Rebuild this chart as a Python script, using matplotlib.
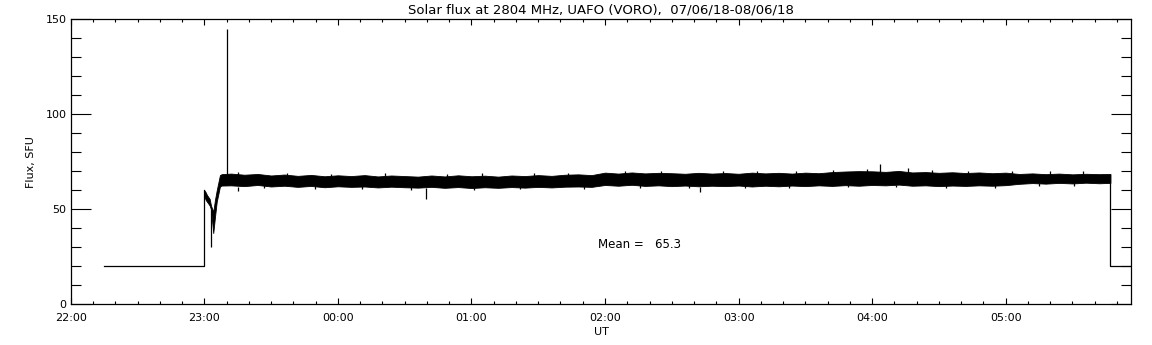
import matplotlib
matplotlib.use("Agg")
import matplotlib.pyplot as plt
from matplotlib.ticker import MultipleLocator

# time axis: hours after 22:00 UT
hour_ticks = [0, 1, 2, 3, 4, 5, 6, 7]
hour_labels = ["22:00", "23:00", "00:00", "01:00", "02:00", "03:00", "04:00", "05:00"]

# receiver off / switch-on levels
base_t = [0.25, 1.0, 1.0]
base_f = [20, 20, 60]
tail_t = [7.784, 7.784, 7.94]
tail_f = [68, 20, 20]

# noise band envelope (upper / lower), SFU
band_t = [1.00, 1.01, 1.02, 1.03, 1.04, 1.05, 1.067, 1.08, 1.093, 1.105, 1.117, 1.13,
          1.2, 1.3, 1.4, 1.5, 1.6, 1.7, 1.8, 1.9, 2.0, 2.1, 2.2, 2.3, 2.4, 2.5,
          2.6, 2.7, 2.8, 2.9, 3.0, 3.1, 3.2, 3.3, 3.4, 3.5, 3.6, 3.7, 3.8, 3.9,
          4.0, 4.1, 4.2, 4.3, 4.4, 4.5, 4.6, 4.7, 4.8, 4.9, 5.0, 5.1, 5.2, 5.3,
          5.4, 5.5, 5.6, 5.7, 5.8, 5.9, 6.0, 6.1, 6.2, 6.3, 6.4, 6.5, 6.6, 6.7,
          6.8, 6.9, 7.0, 7.1, 7.2, 7.3, 7.4, 7.5, 7.6, 7.7, 7.784]
band_hi = [60, 59, 57.5, 56.5, 55.5, 52, 48.7, 55, 60, 64, 68, 68.5,
           68.8, 68.2, 68.6, 67.8, 68.3, 67.6, 68.1, 67.4, 67.9, 67.5, 68.0, 67.3, 67.8, 67.5,
           67.2, 67.8, 67.3, 67.9, 67.4, 67.7, 67.2, 67.8, 67.5, 68.0, 67.6, 68.2, 68.4, 68.0,
           69.3, 68.8, 69.4, 68.9, 69.2, 69.0, 68.7, 69.2, 68.8, 69.1, 68.7, 69.3, 68.9, 69.2,
           68.8, 69.3, 69.0, 69.6, 69.9, 70.1, 70.0, 69.7, 70.2, 69.4, 69.6, 69.2, 69.5, 69.1,
           69.4, 69.0, 69.3, 68.6, 68.9, 68.5, 68.8, 68.4, 68.7, 68.5, 68.6]
band_lo = [57, 55, 54, 53, 52, 50, 37.5, 46, 54, 58, 62, 62.5,
           62.6, 62.2, 62.8, 62.0, 62.4, 61.8, 62.3, 61.6, 62.1, 61.8, 62.0, 61.5, 61.9, 61.6,
           61.4, 61.8, 61.3, 61.7, 61.2, 61.6, 61.3, 61.7, 61.4, 61.8, 61.5, 61.9, 62.0, 61.8,
           62.8, 62.4, 62.9, 62.3, 62.6, 62.2, 62.5, 62.1, 62.4, 62.2, 62.5, 62.0, 62.4, 62.1,
           62.5, 62.2, 62.6, 62.3, 62.7, 62.4, 62.8, 62.6, 63.0, 62.4, 62.6, 62.2, 62.5, 62.3,
           62.6, 62.4, 62.7, 63.4, 63.8, 63.5, 63.9, 63.6, 64.0, 63.7, 63.9]

# isolated spikes
spike_t = [1.048, 1.172, 1.256, 2.66, 4.71, 6.06, 6.27]
spike_from = [50, 66, 62, 61, 62, 69, 69]
spike_to = [30, 145, 59.8, 55.3, 59.3, 73.8, 71.6]

# small noise peaks sticking out of the band edges
peak_t = [1.25, 1.62, 1.95, 2.35, 2.82, 3.08, 3.47, 3.72, 4.15, 4.42, 4.88, 5.14,
          5.43, 5.71, 5.96, 6.45, 6.72, 7.05, 7.33, 7.58,
          1.45, 1.83, 2.18, 2.55, 3.02, 3.36, 3.84, 4.26, 4.63, 5.05, 5.38, 5.82,
          6.18, 6.55, 6.92, 7.25, 7.51]
peak_from = [68, 67, 67, 67, 67, 67, 67, 67, 68, 68, 68, 68,
             68, 69, 69, 69, 68, 68, 68, 68,
             63, 63, 63, 62, 62, 62, 63, 63, 63, 63, 63, 63,
             63, 63, 63, 64, 64]
peak_to = [69.6, 69.0, 68.8, 68.9, 68.7, 69.0, 68.9, 69.2, 70.3, 70.0, 70.2, 70.4,
           70.1, 70.8, 71.0, 70.6, 70.4, 70.2, 70.0, 70.1,
           61.0, 60.6, 60.8, 60.4, 60.2, 60.5, 60.7, 61.4, 61.2, 61.3, 61.1, 61.5,
           61.6, 61.4, 61.2, 62.3, 62.5]

mean_flux = 65.3

plt.rcParams["font.family"] = "DejaVu Sans"
plt.rcParams["font.size"] = 8

fig = plt.figure(figsize=(11.52, 3.45), dpi=100)
ax = fig.add_axes([0.0614, 0.118, 0.9206, 0.826])

lw = 0.9
ax.plot(base_t, base_f, color="black", lw=lw)
ax.plot(tail_t, tail_f, color="black", lw=lw)
ax.fill_between(band_t, band_lo, band_hi, color="black", lw=0.6, edgecolor="black")
ax.vlines(spike_t, spike_from, spike_to, color="black", lw=lw)
ax.vlines(peak_t, peak_from, peak_to, color="black", lw=0.9)

ax.text(3.95, 31.7, f"Mean =   {mean_flux:.1f}", ha="left", va="center", fontsize=8.5)

ax.set_xlim(0, 7.94)
ax.set_ylim(0, 150)
ax.set_xticks(hour_ticks)
ax.set_xticklabels(hour_labels)
ax.xaxis.set_minor_locator(MultipleLocator(1 / 6))
ax.yaxis.set_major_locator(MultipleLocator(50))
ax.yaxis.set_minor_locator(MultipleLocator(10))

ax.tick_params(axis="both", which="both", direction="in", top=True, right=True,
               width=0.8, colors="black")
ax.tick_params(axis="x", which="major", length=4.2, pad=6)
ax.tick_params(axis="x", which="minor", length=2.1)
ax.tick_params(axis="y", which="major", length=14.4, pad=3)
ax.tick_params(axis="y", which="minor", length=7.2)
for s in ax.spines.values():
    s.set_linewidth(0.9)

ax.set_title("Solar flux at 2804 MHz, UAFO (VORO),  07/06/18-08/06/18",
             fontsize=9.5, pad=4)
ax.set_xlabel("UT", labelpad=3)
ax.set_ylabel("Flux, SFU", labelpad=7)

fig.savefig("out.png", dpi=100)
plt.close(fig)
